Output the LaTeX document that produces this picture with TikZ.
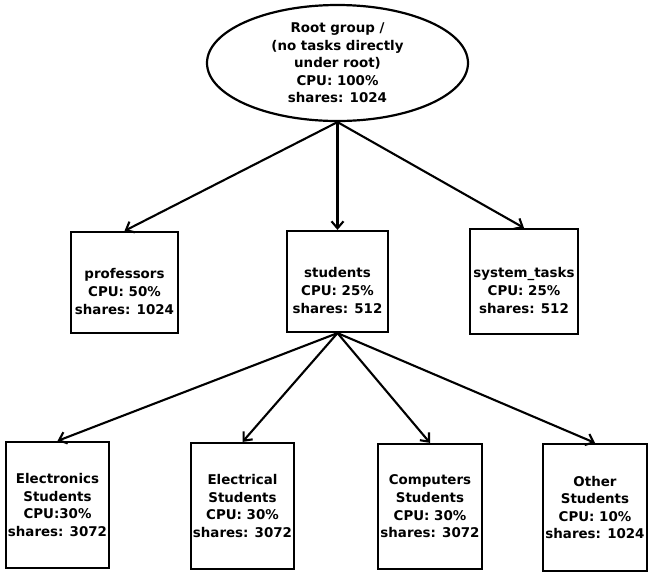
\documentclass[tikz,border=0pt]{standalone}
\usepackage{fontspec}
\setmainfont{DejaVu Sans}
\usetikzlibrary{arrows.meta,shapes.geometric}

\begin{document}
\begin{tikzpicture}[x=1pt,y=-1pt,
    every node/.style={font=\bfseries\fontsize{13.4}{17.6}\selectfont, align=center},
    grp/.style={draw, line width=2.2pt, inner sep=0pt},
    link/.style={line width=2.1pt, -{Straight Barb[length=7pt,width=12pt]}}]
  \useasboundingbox (0,0) rectangle (649,574);
  % top
  \node[grp, ellipse, minimum width=261, minimum height=116] (root) at (337.5,63) {Root group /\\(no tasks directly\\under root)\\CPU: 100\%\\shares: 1024};
  % middle row, text sits a little low in the boxes
  \node[grp, minimum width=107, minimum height=101, label={[yshift=-9pt]center:{professors\\CPU: 50\%\\shares: 1024}}] (prof) at (124.5,282.5) {};
  \node[grp, minimum width=101, minimum height=101, label={[yshift=-9pt]center:{students\\CPU: 25\%\\shares: 512}}] (stud) at (337.5,281.5) {};
  \node[grp, minimum width=108, minimum height=105, label={[yshift=-9pt]center:{system\_tasks\\CPU: 25\%\\shares: 512}}] (sys) at (524,281.5) {};
  % bottom row
  \node[grp, minimum width=103, minimum height=126] (elec) at (57.5,505) {Electronics\\Students\\CPU:30\%\\shares: 3072};
  \node[grp, minimum width=103, minimum height=126] (eltr) at (242.5,506) {Electrical\\Students\\CPU: 30\%\\shares: 3072};
  \node[grp, minimum width=104, minimum height=125] (comp) at (430,506.5) {Computers\\Students\\CPU: 30\%\\shares: 3072};
  \node[grp, minimum width=104, minimum height=127] (other) at (595,507.5) {Other\\Students\\CPU: 10\%\\shares: 1024};
  \draw[link] (root.south) -- (prof.north);
  \draw[link] (root.south) -- (stud.north);
  \draw[link] (root.south) -- (sys.north);
  \draw[link] (stud.south) -- (elec.north);
  \draw[link] (stud.south) -- (eltr.north);
  \draw[link] (stud.south) -- (comp.north);
  \draw[link] (stud.south) -- (other.north);
\end{tikzpicture}
\end{document}
